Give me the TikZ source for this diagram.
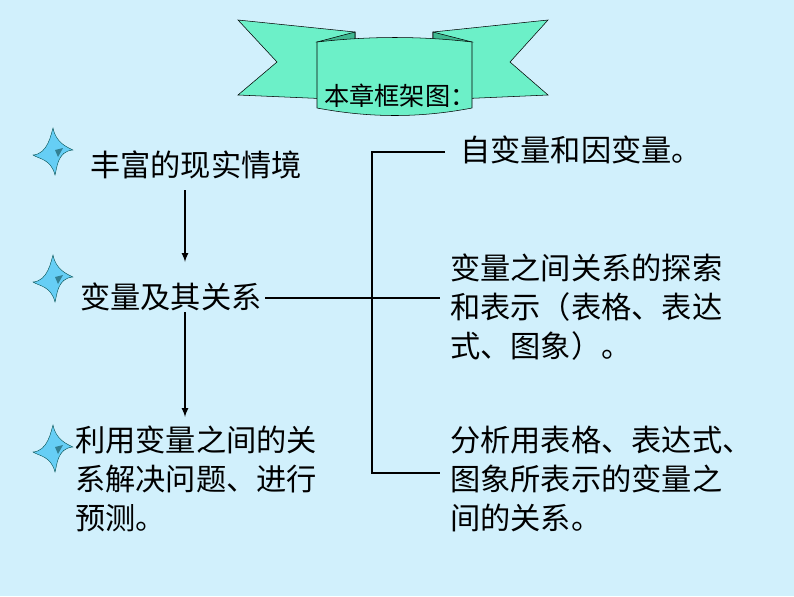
\documentclass[tikz,border=0pt]{standalone}
\usepackage{fontspec}
\newfontfamily\cjk{Noto Sans CJK SC}
\begin{document}
\begin{tikzpicture}[x=0.0265cm,y=-0.0265cm,
  txt/.style={font=\cjk\fontsize{22.8}{29.5}\selectfont,anchor=west,align=left,inner sep=0pt},
  ln/.style={line width=1.8pt},
  arr/.style={line width=1.3pt,-latex},
  star/.style={fill=cyan!60!white,draw=teal!60!black,line width=0.3pt}]
\fill[cyan!18!white] (0,0) rectangle (794,596);
\useasboundingbox (0,0) rectangle (794,596);
% banner
\definecolor{ban}{HTML}{6CF0C8}
\definecolor{band}{HTML}{3FB890}
\draw[fill=ban] (238,20) -- (355,32) -- (355,100) -- (238,95) -- (277,62) -- cycle;
\draw[fill=ban] (548,20) -- (433,32) -- (433,100) -- (548,95) -- (510,62) -- cycle;
\draw[fill=band] (355,32) -- (317,42) -- (355,44) -- cycle;
\draw[fill=band] (433,32) -- (472,42) -- (433,44) -- cycle;
\draw[fill=ban] (317,42) .. controls (370,36) and (420,36) .. (472,42) -- (472,108) .. controls (420,118) and (370,118) .. (317,108) -- cycle;
\node[txt,font=\cjk\fontsize{19}{24}\selectfont] (title) at (324,96) {本章框架图：};
% stars
\foreach \n/\y in {s1/153,s2/280,s3/450}{
  \fill[star] (53,\y) ++(0,-25) .. controls ++(3,15) and ++(-6,-3) .. ++(20,22)
   .. controls ++(-16,1) and ++(2,-6) .. ++(-18,25)
   .. controls ++(-4,-16) and ++(6,4) .. ++(-22,-20)
   .. controls ++(15,-1) and ++(-2,6) .. cycle;
  \fill[teal!40!black,opacity=0.5] (55,\y-3) -- (63,\y-5) -- (58,\y+4) -- cycle;
  \coordinate (\n) at (53,\y);
}
% left texts
\node[txt] (a) at (90,165) {丰富的现实情境};
\node[txt] (b) at (80,297) {变量及其关系};
\node[txt,text width=290] (c) at (75,479) {利用变量之间的关\\系解决问题、进行\\预测。};
% right texts
\node[txt] (r1) at (460,150) {自变量和因变量。};
\node[txt] (r2) at (450,307) {变量之间关系的探索\\和表示（表格、表达\\式、图象）。};
\node[txt] (r3) at (450,479) {分析用表格、表达式、\\图象所表示的变量之\\间的关系。};
% arrows
\coordinate (a1) at (185,190); \coordinate (a2) at (185,262);
\coordinate (b1) at (185,312); \coordinate (b2) at (185,417);
\draw[arr] (a1) -- (a2);
\draw[arr] (b1) -- (b2);
% bracket
\coordinate (t) at (372,152); \coordinate (te) at (445,152);
\coordinate (bo) at (372,473); \coordinate (be) at (440,473);
\coordinate (m1) at (265,298); \coordinate (m2) at (440,298);
\draw[ln] (te) -- (t) -- (bo) -- (be);
\draw[ln] (m1) -- (m2);
\end{tikzpicture}
\end{document}
